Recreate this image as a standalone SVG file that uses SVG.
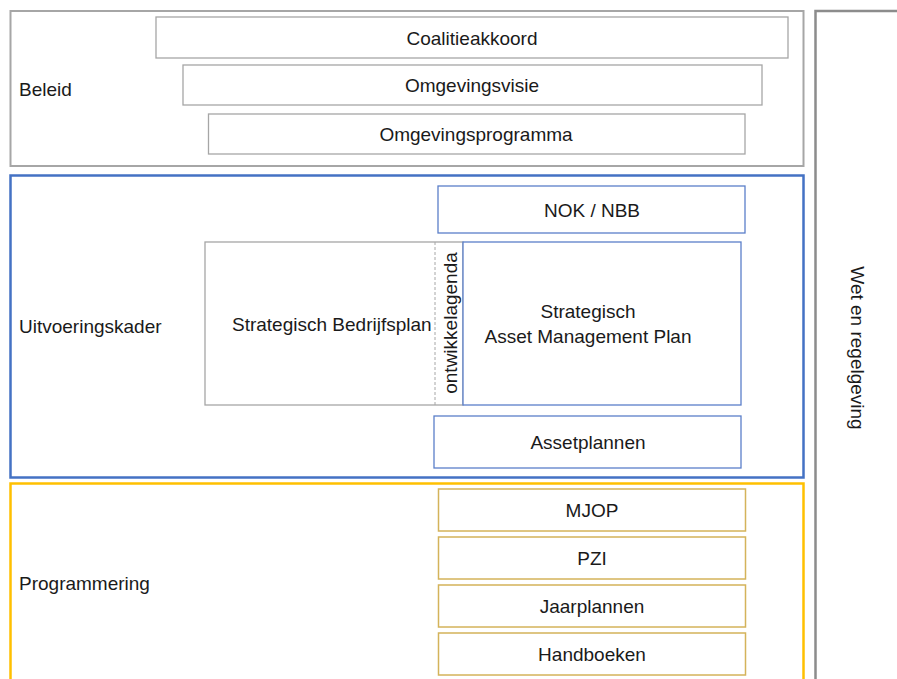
<svg xmlns="http://www.w3.org/2000/svg" width="897" height="679" viewBox="0 0 897 679">
<style>
text{font-family:"Liberation Sans",Arial,sans-serif;font-size:19px;fill:#1a1a1a}
.c{text-anchor:middle}
.grayOuter{fill:none;stroke:#a6a6a6;stroke-width:2}
.grayIn{fill:#fff;stroke:#a6a6a6;stroke-width:1.3}
.blueOuter{fill:none;stroke:#4472c4;stroke-width:2.5}
.blueIn{fill:#fff;stroke:#5b7fc9;stroke-width:1.3}
.yelOuter{fill:none;stroke:#ffc000;stroke-width:2.5}
.yelIn{fill:#fff;stroke:#d4b35a;stroke-width:1.5}
</style>
<rect width="897" height="679" fill="#fff"/>
<g id="wet">
<rect x="815.5" y="11" width="100" height="700" fill="none" stroke="#8c8c8c" stroke-width="2.5"/>
<text class="c" transform="translate(851,348) rotate(90)">Wet en regelgeving</text>
</g>
<g id="beleid">
<rect class="grayOuter" x="10.5" y="11" width="793" height="155"/>
<text x="19" y="96">Beleid</text>
</g>
<g id="coalitieakkoord">
<rect class="grayIn" x="156" y="17" width="632" height="41"/>
<text class="c" x="472" y="44.5">Coalitieakkoord</text>
</g>
<g id="omgevingsvisie">
<rect class="grayIn" x="183" y="65" width="579" height="40"/>
<text class="c" x="472" y="92">Omgevingsvisie</text>
</g>
<g id="omgevingsprogramma">
<rect class="grayIn" x="208.5" y="114" width="536.5" height="40"/>
<text class="c" x="476" y="141">Omgevingsprogramma</text>
</g>
<g id="uitvoeringskader">
<rect class="blueOuter" x="10.5" y="175.5" width="793" height="302"/>
<text x="19" y="333">Uitvoeringskader</text>
</g>
<g id="nok">
<rect class="blueIn" x="438" y="186" width="307" height="47"/>
<text class="c" x="592" y="216.5">NOK / NBB</text>
</g>
<g id="bedrijfsplan">
<rect class="grayIn" x="205" y="242" width="258" height="163"/>
<line x1="435" y1="242" x2="435" y2="405" stroke="#a6a6a6" stroke-width="1" stroke-dasharray="3,2"/>
<text x="232" y="331">Strategisch Bedrijfsplan</text>
<text class="c" transform="translate(456.5,323) rotate(-90)">ontwikkelagenda</text>
</g>
<g id="samp">
<rect class="blueIn" x="463" y="242" width="278" height="163"/>
<text class="c" x="588" y="318">Strategisch</text>
<text class="c" x="588" y="343">Asset Management Plan</text>
</g>
<g id="assetplannen">
<rect class="blueIn" x="434" y="416" width="307" height="52"/>
<text class="c" x="588" y="449">Assetplannen</text>
</g>
<g id="programmering">
<rect class="yelOuter" x="10.5" y="483.5" width="793" height="230"/>
<text x="19" y="590">Programmering</text>
</g>
<g id="mjop">
<rect class="yelIn" x="438.5" y="489" width="307" height="42"/>
<text class="c" x="592" y="516.5">MJOP</text>
</g>
<g id="pzi">
<rect class="yelIn" x="438.5" y="537" width="307" height="42"/>
<text class="c" x="592" y="564.5">PZI</text>
</g>
<g id="jaarplannen">
<rect class="yelIn" x="438.5" y="585" width="307" height="42"/>
<text class="c" x="592" y="612.5">Jaarplannen</text>
</g>
<g id="handboeken">
<rect class="yelIn" x="438.5" y="633" width="307" height="42"/>
<text class="c" x="592" y="660.5">Handboeken</text>
</g>
<g id="connectors"></g>
</svg>
